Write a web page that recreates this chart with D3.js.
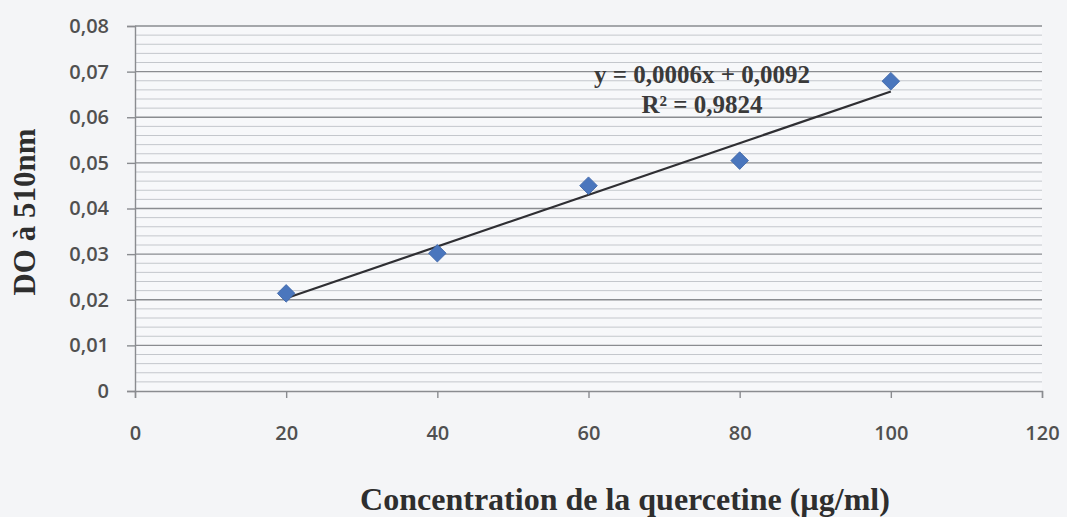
<!DOCTYPE html>
<html>
<head>
<meta charset="utf-8">
<script src="https://cdn.jsdelivr.net/npm/d3@7"></script>
<style>
  html, body { margin: 0; padding: 0; background: #f4f5f7; }
  svg { display: block; }
</style>
</head>
<body>
<svg id="chart" width="1067" height="517"></svg>
<script>
// ---- data ----
const concentrations = [20, 40, 60, 80, 100];
const absorbance = [0.0214, 0.0302, 0.0450, 0.0505, 0.0679];
const xTicks = [0, 20, 40, 60, 80, 100, 120];
const yTicks = [0, 0.01, 0.02, 0.03, 0.04, 0.05, 0.06, 0.07, 0.08];
const equationLines = ["y = 0,0006x + 0,0092", "R\u00B2 = 0,9824"];
const xTitle = "Concentration de la quercetine (\u00B5g/ml)";
const yTitle = "DO \u00E0 510nm";

// ---- layout ----
const svg = d3.select("#chart");
const mLeft = 135, mRight = 1042, mTop = 26, mBottom = 391;
const x = d3.scaleLinear().domain([0, 120]).range([mLeft, mRight]);
const y = d3.scaleLinear().domain([0, 0.08]).range([mBottom, mTop]);
const fmt = v => d3.format(".2f")(v).replace(".", ",").replace(/^0,00$/, "0");

// plot background
svg.append("rect").attr("x", mLeft).attr("y", mTop)
  .attr("width", mRight - mLeft).attr("height", mBottom - mTop)
  .attr("fill", "#f7f8fa");

// minor gridlines
const minor = d3.range(0, 0.0801, 0.002).filter((v, i) => i % 5 !== 0);
svg.append("g").selectAll("line").data(minor).join("line")
  .attr("x1", mLeft).attr("x2", mRight)
  .attr("y1", d => y(d)).attr("y2", d => y(d))
  .attr("stroke", "#c4c7cc").attr("stroke-width", 1);

// major gridlines
svg.append("g").selectAll("line").data(yTicks.slice(1)).join("line")
  .attr("x1", mLeft).attr("x2", mRight)
  .attr("y1", d => y(d)).attr("y2", d => y(d))
  .attr("stroke", "#8a8c90").attr("stroke-width", 1.4);

// y axis
const yAxis = svg.append("g").attr("transform", `translate(${mLeft},0)`)
  .call(d3.axisLeft(y).tickValues(yTicks).tickFormat(fmt).tickSize(8).tickPadding(18));
yAxis.select(".domain").attr("stroke", "#8a8c90").attr("stroke-width", 1.4);
yAxis.selectAll(".tick line").attr("stroke", "#8a8c90").attr("stroke-width", 1.4);
yAxis.selectAll("text").attr("fill", "#505050")
  .style("font-family", "'Open Sans', sans-serif").style("font-size", "20px")
  .style("font-weight", "600");

// x axis
const xAxis = svg.append("g").attr("transform", `translate(0,${mBottom})`)
  .call(d3.axisBottom(x).tickValues(xTicks).tickFormat(d => d).tickSize(7).tickPadding(28));
xAxis.select(".domain").attr("stroke", "#8a8c90").attr("stroke-width", 1.4);
xAxis.selectAll(".tick line").attr("stroke", "#8a8c90").attr("stroke-width", 1.4);
xAxis.selectAll("text").attr("fill", "#505050")
  .style("font-family", "'Open Sans', sans-serif").style("font-size", "20px")
  .style("font-weight", "600");

// linear trendline (least squares from data)
const mx = d3.mean(concentrations), my = d3.mean(absorbance);
const slope = d3.sum(concentrations, (c, i) => (c - mx) * (absorbance[i] - my)) /
              d3.sum(concentrations, c => (c - mx) ** 2);
const intercept = my - slope * mx;
const xr = d3.extent(concentrations);
svg.append("path")
  .datum(xr.map(c => [c, slope * c + intercept]))
  .attr("d", d3.line().x(d => x(d[0])).y(d => y(d[1])))
  .attr("fill", "none").attr("stroke", "#2f2f33").attr("stroke-width", 2.2);

// markers
const diamond = d3.symbol().type(d3.symbolSquare).size(155);
svg.append("g").selectAll("path").data(concentrations).join("path")
  .attr("d", diamond)
  .attr("transform", (c, i) => `translate(${x(c)},${y(absorbance[i])}) rotate(45)`)
  .attr("fill", "#4a76bd").attr("stroke", "#3d65a8").attr("stroke-width", 0.8);

// equation label
svg.append("text").attr("text-anchor", "middle")
  .style("font-family", "'Liberation Serif', 'Times New Roman', serif")
  .style("font-weight", "bold").style("font-size", "25px").attr("fill", "#3a3a3a")
  .selectAll("tspan").data(equationLines).join("tspan")
  .attr("x", 702).attr("y", (d, i) => 83 + i * 30).text(d => d);

// axis titles
svg.append("text").attr("x", 625).attr("y", 510).attr("text-anchor", "middle")
  .style("font-family", "'Liberation Serif', 'Times New Roman', serif")
  .style("font-weight", "bold").style("font-size", "32px").attr("fill", "#2e2e2e")
  .text(xTitle);

svg.append("text").attr("transform", "translate(35,212) rotate(-90)")
  .attr("text-anchor", "middle")
  .style("font-family", "'Liberation Serif', 'Times New Roman', serif")
  .style("font-weight", "bold").style("font-size", "31px").attr("fill", "#2e2e2e")
  .text(yTitle);
</script>
</body>
</html>
